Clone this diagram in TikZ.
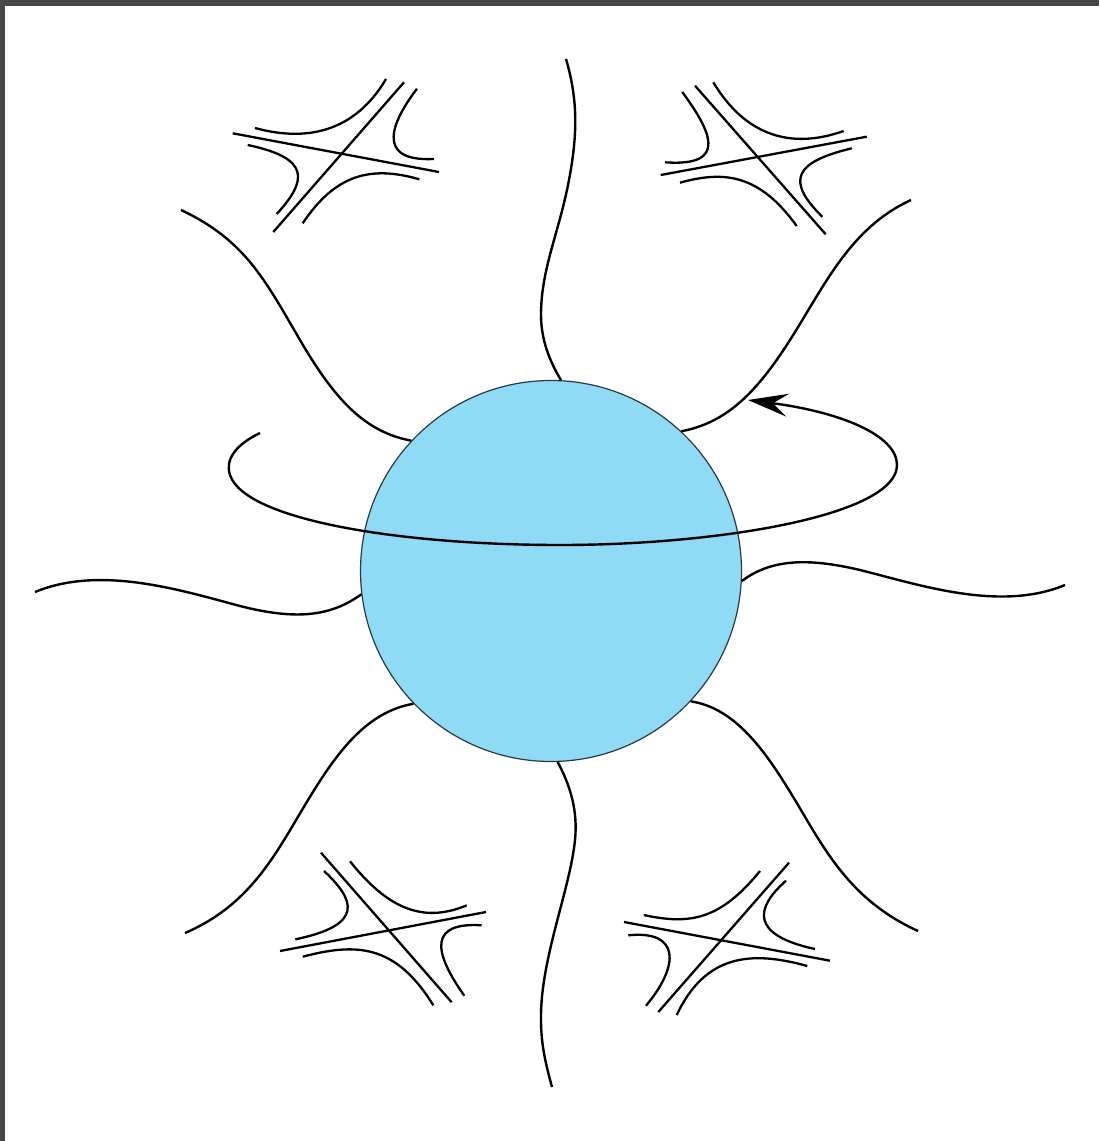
\documentclass[tikz,border=0pt]{standalone}
\usetikzlibrary{arrows.meta}
\definecolor{Sky}{HTML}{8FDAF5}
\definecolor{Edge}{HTML}{2C3A40}
\definecolor{Frame}{HTML}{474747}
\tikzset{
  blob/.style={circle,draw=Edge,line width=.6pt,fill=Sky,minimum size=190.5pt,inner sep=0pt},
  leg/.style={draw=black,line width=1.2pt},
  ring/.style={leg,-{Stealth[length=20pt,width=11.5pt,inset=7.5pt]}},
  strand/.style={draw=black,line width=1.15pt},
  frame/.style={fill=Frame,draw=none}
}
\begin{document}
\begin{tikzpicture}[x=.5pt,y=-.5pt]
    \useasboundingbox (0,0) rectangle (1099,1141);
    \fill[frame] (0,0) rectangle (1099,6);
    \fill[frame] (0,0) rectangle (5,1141);
    \node[blob] (core) at (551,571) {};
    \draw[leg] (core.87) .. controls (550,362) and (541,340) .. (541,315) .. controls (541,270) and (558,235) .. (568,185) .. controls (578,135) and (578,100) .. (566,59);
    \draw[leg] (core.47) .. controls (725,423) and (755,395) .. (790,340) .. controls (825,285) and (850,228) .. (911,200);
    \draw[leg] (core.137) .. controls (365,432) and (335,400) .. (300,340) .. controls (265,280) and (245,240) .. (181,210);
    \draw[leg] (core.-3.3) .. controls (770,560) and (805,557) .. (860,570) .. controls (920,585) and (1000,612) .. (1065,585);
    \draw[leg] (core.187) .. controls (330,617) and (295,620) .. (240,606) .. controls (180,590) and (100,565) .. (35,592);
    \draw[leg] (core.-43.3) .. controls (735,708) and (765,750) .. (795,800) .. controls (825,850) and (850,900) .. (918,931);
    \draw[leg] (core.224) .. controls (365,712) and (335,755) .. (305,805) .. controls (275,855) and (250,905) .. (185,933);
    \draw[leg] (core.-88.8) .. controls (570,785) and (578,810) .. (575,840) .. controls (570,890) and (540,960) .. (541,1020) .. controls (541,1045) and (546,1065) .. (552,1087);
    \draw[ring] (260,433) .. controls (235,445) and (225,460) .. (230,475) .. controls (245,520) and (400,545) .. (560,545) .. controls (720,545) and (897,515) .. (897,465) .. controls (897,435) and (840,412) .. (748,400);
    % upper left
    \draw[strand] (232.7,133.3)--(439,172);
    \draw[strand] (404,82.3)--(273.3,232);
    \draw[strand] (255,128) .. controls (295,139) and (350,140) .. (386,79);
    \draw[strand] (417,88.7) .. controls (393,120) and (373,162) .. (434,159);
    \draw[strand] (302.7,223.3) .. controls (335,175) and (370,165) .. (419.3,179.3);
    \draw[strand] (247.7,145) .. controls (310,158) and (308,180) .. (276.7,214);
    % upper right
    \draw[strand] (660.7,175)--(866.7,136.7);
    \draw[strand] (695,85.7)--(825.7,234.3);
    \draw[strand] (713.3,82.3) .. controls (745,135) and (790,150) .. (843.7,131);
    \draw[strand] (682.3,92) .. controls (710,130) and (730,167) .. (665,162.3);
    \draw[strand] (680,182.7) .. controls (725,170) and (760,175) .. (796.7,226);
    \draw[strand] (851.7,148.3) .. controls (795,162) and (785,180) .. (822.3,216.7);
    % lower left
    \draw[strand] (280,951)--(486,912);
    \draw[strand] (321,852.7)--(451.7,1002.3);
    \draw[strand] (350,861.3) .. controls (385,905) and (420,925) .. (466.7,905.3);
    \draw[strand] (324,871) .. controls (355,900) and (365,925) .. (295.3,939.3);
    \draw[strand] (302.7,956.7) .. controls (355,943) and (395,943) .. (433.3,1005.3);
    \draw[strand] (481.7,925.3) .. controls (430,922) and (432,950) .. (464.3,995.7);
    % lower right
    \draw[strand] (624,922)--(830,960.7);
    \draw[strand] (789,862.7)--(658.3,1012);
    \draw[strand] (643.7,915) .. controls (690,925) and (720,920) .. (760,871);
    \draw[strand] (786,880.7) .. controls (755,908) and (750,935) .. (815,949);
    \draw[strand] (676.7,1015) .. controls (705,955) and (750,950) .. (807.3,966);
    \draw[strand] (628.3,935.3) .. controls (680,930) and (680,965) .. (646,1005.7);
\end{tikzpicture}
\end{document}
